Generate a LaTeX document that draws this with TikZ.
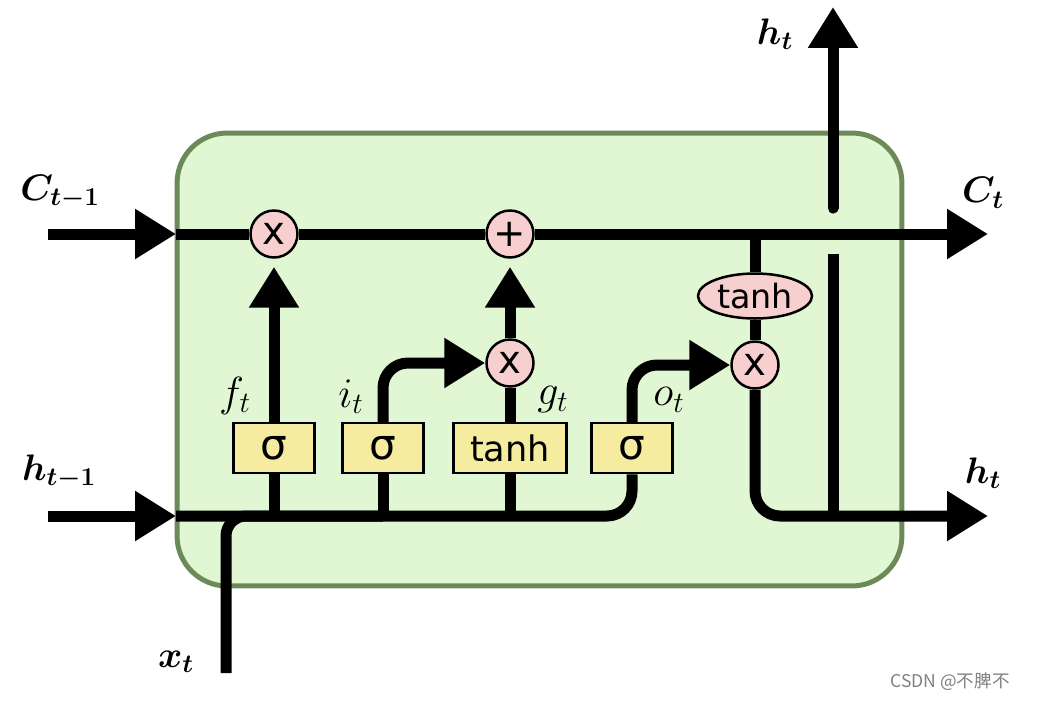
\RequirePackage{fix-cm}
\documentclass[tikz,border=0pt]{standalone}
\usepackage{fontspec}
\usepackage{amsmath,bm}
\newfontfamily\cellfont{DejaVu Sans}
\newfontfamily\cjkfont{Noto Sans CJK SC}
\usetikzlibrary{arrows.meta,shapes.geometric}
\definecolor{cellfill}{HTML}{E1F7D3}
\definecolor{celledge}{HTML}{6C8A57}
\definecolor{opfill}{HTML}{F8CFCF}
\definecolor{gatefill}{HTML}{F6EC9F}

\begin{document}
\begin{tikzpicture}[
    x=0.02cm, y=-0.02cm,
    wire/.style={line width=0.22cm},
    flow/.style={line width=0.22cm,-{Triangle[length=0.82cm,width=0.95cm]}},
    op/.style={circle,draw,line width=0.05cm,fill=opfill,minimum size=0.94cm,inner sep=0pt,font=\cellfont\fontsize{22}{22}\selectfont},
    gate/.style={draw,line width=0.05cm,fill=gatefill,minimum width=1.62cm,minimum height=1cm,inner sep=0pt,font=\cellfont\fontsize{24}{24}\selectfont},
    big/.style={font=\fontsize{21}{24}\selectfont},
    small/.style={font=\fontsize{24}{28}\selectfont}
    ]
    \useasboundingbox (0,0) rectangle (1042,701);
    \node[draw=celledge,fill=cellfill,line width=0.1cm,rounded corners=1cm,minimum width=14.5cm,minimum height=9.06cm] (cell) at (539.5,359.5) {};

    \node[op] (fx) at (274,234) {x};
    \node[op] (cadd) at (510,234) {+};
    \node[op] (ix) at (510,363) {x};
    \node[op] (ox) at (755,365) {x};
    \node[ellipse,draw,line width=0.05cm,fill=opfill,minimum width=2.28cm,minimum height=0.9cm,inner sep=0pt,font=\cellfont\fontsize{19}{19}\selectfont] (ctanh) at (755,296) {tanh};
    \node[gate] (fgate) at (274,448) {σ};
    \node[gate] (igate) at (383,448) {σ};
    \node[gate,minimum width=2.26cm,font=\cellfont\fontsize{20}{20}\selectfont] (ggate) at (510,448) {tanh};
    \node[gate] (ogate) at (632,448) {σ};

    \coordinate (cin0) at (48,234);
    \coordinate (cin) at (176,234);
    \coordinate (cout) at (988,234);
    \coordinate (ctap) at (755,234);
    \coordinate (hin0) at (48,516);
    \coordinate (hin) at (176,516);
    \coordinate (hout) at (988,516);
    \coordinate (xin) at (226,673);
    \coordinate (xjoin) at (383,516);
    \coordinate (hlow) at (833,516);
    \coordinate (hmid) at (833,254);
    \coordinate (htop0) at (833,208);
    \coordinate (htop) at (833,7);

    \draw[flow] (cin0) -- (cin);
    \draw[wire] (cin) -- (fx.west);
    \draw[wire] (fx.east) -- (cadd.west);
    \draw[flow] (cadd.east) -- (cout);
    \draw[wire] (ctap) -- (ctanh.north);
    \draw[wire] (ctanh.south) -- (ox.north);

    \draw[flow,shorten >=0.16cm] (fgate.north) -- (fx.south);
    \draw[flow,rounded corners=0.5cm] (igate.north) |- (ix.west);
    \draw[wire] (ggate.north) -- (ix.south);
    \draw[flow,shorten >=0.16cm] (ix.north) -- (cadd.south);
    \draw[flow,rounded corners=0.5cm] (ogate.north) |- (ox.west);

    \draw[flow] (hin0) -- (hin);
    \draw[wire,rounded corners=0.4cm] (xin) |- (xjoin);
    \draw[wire,rounded corners=0.5cm] (hin) -| (ogate.south);
    \draw[wire] (fgate.south) -- (fgate.south |- hin);
    \draw[wire] (igate.south) -- (igate.south |- hin);
    \draw[wire] (ggate.south) -- (ggate.south |- hin);
    \draw[flow,rounded corners=0.5cm] (ox.south) |- (hout);
    \draw[wire] (hlow) -- (hmid);
    \draw[flow,line cap=round] (htop0) -- (htop);

    \node[big] (lcprev) at (60,192) {$\bm{C_{t-1}}$};
    \node[big] (lhprev) at (59,472) {$\bm{h_{t-1}}$};
    \node[big] (lcnext) at (983,193) {$\bm{C_t}$};
    \node[big] (lhtop) at (775,34) {$\bm{h_t}$};
    \node[big] (lhnext) at (983,473) {$\bm{h_t}$};
    \node[big] (lx) at (176,662) {$\bm{x_t}$};
    \node[small] (lf) at (235,396) {$f_t$};
    \node[small] (li) at (351,397) {$i_t$};
    \node[small] (lg) at (553,400) {$g_t$};
    \node[small] (lo) at (669,400) {$o_t$};
    \node[text=gray,font=\cjkfont\fontsize{10}{12}\selectfont,anchor=west,inner sep=0pt] (mark) at (890,682) {CSDN @不脾不};
\end{tikzpicture}
\end{document}
